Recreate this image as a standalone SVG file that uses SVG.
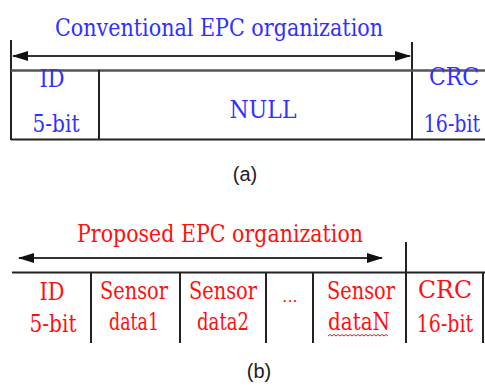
<svg xmlns="http://www.w3.org/2000/svg" width="485" height="386" viewBox="0 0 485 386">
<style>
.ln{stroke:#222;stroke-width:2;fill:none}
.hl{stroke:#555;stroke-width:2.5;fill:none}
.ar{stroke:#333;stroke-width:2;fill:none}
text.b{font-family:'DejaVu Serif',serif;font-size:25px;fill:#3030ff;text-anchor:middle}
text.r{font-family:'DejaVu Serif',serif;font-size:25px;fill:#ff1010;text-anchor:middle}
text.cap{font-family:'Liberation Sans',Arial,sans-serif;font-size:20px;fill:#222;text-anchor:middle}
</style>
<defs>
<marker id="ah" viewBox="0 0 16 10" refX="15" refY="5" markerWidth="16" markerHeight="10" markerUnits="userSpaceOnUse" orient="auto-start-reverse">
<path d="M0,0 L16,5 L0,10 Z" fill="#111"/>
</marker>
</defs>
<g id="connectors">
<line class="ar" x1="13" y1="56" x2="410" y2="56" marker-start="url(#ah)" marker-end="url(#ah)"/>
<line class="ar" x1="19" y1="258" x2="382" y2="258" marker-start="url(#ah)" marker-end="url(#ah)"/>
</g>
<g id="frame-a">
<line class="ln" x1="11" y1="40" x2="11" y2="140"/>
<line class="ln" x1="412" y1="42" x2="412" y2="140"/>
<line class="hl" x1="11" y1="70.5" x2="485" y2="70.5"/>
<line class="ln" x1="11" y1="139.5" x2="485" y2="139.5"/>
<line class="ln" x1="99" y1="70" x2="99" y2="140"/>
</g>
<g id="title-a"><text class="b" x="219" y="36" textLength="328" lengthAdjust="spacingAndGlyphs">Conventional  EPC organization</text></g>
<g id="id-a"><text class="b" x="52" y="87" textLength="25" lengthAdjust="spacingAndGlyphs">ID</text><text class="b" x="56" y="132" textLength="47" lengthAdjust="spacingAndGlyphs">5-bit</text></g>
<g id="null-a"><text class="b" x="263" y="118" textLength="67" lengthAdjust="spacingAndGlyphs">NULL</text></g>
<g id="crc-a"><text class="b" x="454" y="85" textLength="50" lengthAdjust="spacingAndGlyphs">CRC</text><text class="b" transform="translate(452,132) scale(0.76,1)" x="0" y="0">16-bit</text></g>
<g id="label-a"><text class="cap" x="245" y="181">(a)</text></g>
<g id="frame-b">
<line class="ln" x1="406" y1="242" x2="406" y2="343"/>
<line class="ln" x1="12" y1="272.5" x2="485" y2="272.5"/>
<line class="ln" x1="91" y1="272" x2="91" y2="343"/>
<line class="ln" x1="180" y1="272" x2="180" y2="343"/>
<line class="ln" x1="266" y1="272" x2="266" y2="343"/>
<line class="ln" x1="313" y1="272" x2="313" y2="343"/>
<line class="ln" x1="483" y1="272" x2="483" y2="343"/>
</g>
<g id="title-b"><text class="r" x="220" y="242" textLength="286" lengthAdjust="spacingAndGlyphs">Proposed EPC organization</text></g>
<g id="id-b"><text class="r" x="52" y="300" textLength="25" lengthAdjust="spacingAndGlyphs">ID</text><text class="r" x="53" y="332" textLength="47" lengthAdjust="spacingAndGlyphs">5-bit</text></g>
<g id="s1-b"><text class="r" x="134" y="299" textLength="68" lengthAdjust="spacingAndGlyphs">Sensor</text><text class="r" x="134" y="330" textLength="50" lengthAdjust="spacingAndGlyphs">data1</text></g>
<g id="s2-b"><text class="r" x="223" y="299" textLength="68" lengthAdjust="spacingAndGlyphs">Sensor</text><text class="r" x="223" y="330" textLength="52" lengthAdjust="spacingAndGlyphs">data2</text></g>
<g id="dots-b"><text class="r" x="290" y="302" style="font-size:16px">...</text></g>
<g id="sn-b"><text class="r" x="361" y="299" textLength="68" lengthAdjust="spacingAndGlyphs">Sensor</text><text class="r" x="359" y="330" textLength="62" lengthAdjust="spacingAndGlyphs">dataN</text>
<path d="M328,336 l2,-1.5 l2,1.5 l2,-1.5 l2,1.5 l2,-1.5 l2,1.5 l2,-1.5 l2,1.5 l2,-1.5 l2,1.5 l2,-1.5 l2,1.5 l2,-1.5 l2,1.5 l2,-1.5 l2,1.5 l2,-1.5 l2,1.5 l2,-1.5 l2,1.5 l2,-1.5 l2,1.5 l2,-1.5 l2,1.5 l2,-1.5 l2,1.5 l2,-1.5 l2,1.5 l2,-1.5 l2,1.5" fill="none" stroke="#e02020" stroke-width="1"/></g>
<g id="crc-b"><text class="r" x="445" y="298" textLength="54" lengthAdjust="spacingAndGlyphs">CRC</text><text class="r" transform="translate(445,332) scale(0.76,1)" x="0" y="0">16-bit</text></g>
<g id="label-b"><text class="cap" x="259" y="378">(b)</text></g>
</svg>
